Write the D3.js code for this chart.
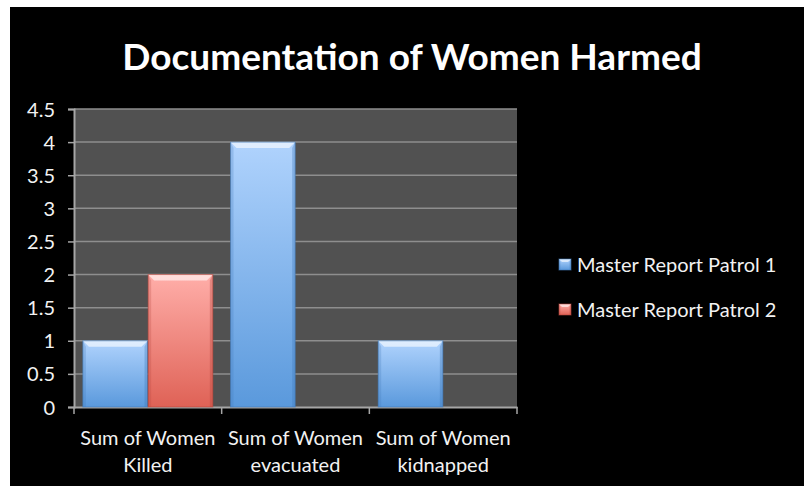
<!DOCTYPE html>
<html>
<head>
<meta charset="utf-8">
<script src="https://cdn.jsdelivr.net/npm/d3@7"></script>
<style>
  body { margin: 0; background: #fff; }
  #chart text { font-family: Lato, "Open Sans", sans-serif; fill: #f2f2f2; }
</style>
</head>
<body>
<div id="chart"></div>
<script>
// chart data
var categories = ["Sum of Women Killed", "Sum of Women evacuated", "Sum of Women kidnapped"];
var categoryLines = [["Sum of Women", "Killed"], ["Sum of Women", "evacuated"], ["Sum of Women", "kidnapped"]];
var seriesNames = ["Master Report Patrol 1", "Master Report Patrol 2"];
var patrol1 = [1, 4, 1];
var patrol2 = [2, null, null];
var yTicks = [0, 0.5, 1, 1.5, 2, 2.5, 3, 3.5, 4, 4.5];

var W = 804, H = 486;
var plot = { left: 74, right: 517, top: 109, bottom: 407 };

var svg = d3.select("#chart").append("svg")
    .attr("width", W)
    .attr("height", H);

// white page edge then black chart background
svg.append("rect").attr("width", W).attr("height", H).attr("fill", "#fff");
svg.append("rect").attr("x", 10).attr("y", 7).attr("width", W - 10).attr("height", H - 7).attr("fill", "#000");

var defs = svg.append("defs");
var palettes = [
    { top: "#b0d3fd", bottom: "#5a99dc", edge: "#3f78b8" },
    { top: "#ffaea9", bottom: "#df6256", edge: "#b4443b" }
];
palettes.forEach(function(p, i) {
    var g = defs.append("linearGradient").attr("id", "grad" + i)
        .attr("x1", 0).attr("y1", 0).attr("x2", 0).attr("y2", 1);
    g.append("stop").attr("offset", "0%").attr("stop-color", p.top);
    g.append("stop").attr("offset", "100%").attr("stop-color", p.bottom);
});

var y = d3.scaleLinear().domain([0, 4.5]).range([plot.bottom, plot.top]);
var x0 = d3.scaleBand().domain(categories).range([plot.left, plot.right]).padding(0);
var x1 = d3.scaleBand().domain(seriesNames)
    .range([x0.bandwidth() * 0.06, x0.bandwidth() * 0.94]).paddingInner(0.01);

// plot area
svg.append("rect")
    .attr("x", plot.left).attr("y", plot.top)
    .attr("width", plot.right - plot.left).attr("height", plot.bottom - plot.top)
    .attr("fill", "#515151");

// gridlines
svg.append("g").selectAll("line")
    .data(yTicks.filter(function(d) { return d > 0; }))
    .enter().append("line")
    .attr("x1", plot.left).attr("x2", plot.right)
    .attr("y1", function(d) { return y(d); }).attr("y2", function(d) { return y(d); })
    .attr("stroke", "#8e8e8e").attr("stroke-width", 1.5);

// y axis
var yAxis = svg.append("g")
    .attr("transform", "translate(" + plot.left + ",0)")
    .call(d3.axisLeft(y).tickValues(yTicks).tickSize(6).tickPadding(13).tickFormat(d3.format("")));
yAxis.select(".domain").attr("stroke", "#a6a6a6").attr("stroke-width", 2);
yAxis.selectAll(".tick line").attr("stroke", "#a6a6a6").attr("stroke-width", 1.5);
yAxis.selectAll(".tick text").style("font-size", "20px").attr("dy", "0.35em");

// x axis
var xAxis = svg.append("g")
    .attr("transform", "translate(0," + plot.bottom + ")")
    .call(d3.axisBottom(x0).tickSize(0).tickFormat(""));
xAxis.select(".domain").attr("stroke", "#a6a6a6").attr("stroke-width", 2);
xAxis.selectAll(".tick").remove();
var bounds = categories.map(function(c) { return x0(c); }).concat([plot.right]);
xAxis.selectAll(".bound")
    .data(bounds).enter().append("line")
    .attr("x1", function(d) { return d; }).attr("x2", function(d) { return d; })
    .attr("y1", 0).attr("y2", 7)
    .attr("stroke", "#a6a6a6").attr("stroke-width", 1.5);

svg.append("g").selectAll("text")
    .data(categories).enter().append("text")
    .attr("x", function(c) { return x0(c) + x0.bandwidth() / 2; })
    .attr("y", 445)
    .attr("text-anchor", "middle")
    .style("font-size", "20px")
    .each(function(c, i) {
        var t = d3.select(this);
        categoryLines[i].forEach(function(line, j) {
            t.append("tspan").attr("x", x0(c) + x0.bandwidth() / 2)
                .attr("dy", j === 0 ? 0 : 27).text(line);
        });
    });

// bars
var barData = [];
categories.forEach(function(c, i) {
    [patrol1, patrol2].forEach(function(s, k) {
        if (s[i] != null && s[i] > 0) barData.push({ cat: c, series: seriesNames[k], k: k, value: s[i] });
    });
});

function drawBevelBar(g, x, yTop, w, h, k, bev) {
    var p = palettes[k];
    g.append("rect").attr("x", x).attr("y", yTop).attr("width", w).attr("height", h)
        .attr("fill", "url(#grad" + k + ")");
    // top bevel highlight
    g.append("polygon")
        .attr("points", [[x, yTop], [x + w, yTop], [x + w - bev, yTop + bev], [x + bev, yTop + bev]].join(" "))
        .attr("fill", "#fff").attr("fill-opacity", 0.6);
    // side shading
    g.append("polygon")
        .attr("points", [[x, yTop], [x + bev * 0.5, yTop + bev], [x + bev * 0.5, yTop + h], [x, yTop + h]].join(" "))
        .attr("fill", p.edge).attr("fill-opacity", 0.25);
    g.append("polygon")
        .attr("points", [[x + w, yTop], [x + w - bev * 0.5, yTop + bev], [x + w - bev * 0.5, yTop + h], [x + w, yTop + h]].join(" "))
        .attr("fill", p.edge).attr("fill-opacity", 0.35);
    g.append("rect").attr("x", x).attr("y", yTop).attr("width", w).attr("height", h)
        .attr("fill", "none").attr("stroke", p.edge).attr("stroke-opacity", 0.6).attr("stroke-width", 1);
}

var barsG = svg.append("g");
barData.forEach(function(d) {
    var bx = x0(d.cat) + x1(d.series);
    drawBevelBar(barsG, bx, y(d.value), x1.bandwidth(), y(0) - y(d.value), d.k, 6);
});

// title
svg.append("text")
    .attr("x", 412).attr("y", 70)
    .attr("text-anchor", "middle")
    .style("font-size", "37px").style("font-weight", "bold")
    .style("fill", "#fff")
    .text("Documentation of Women Harmed");

// legend
var legend = svg.append("g");
seriesNames.forEach(function(name, k) {
    var ly = 265 + k * 45;
    drawBevelBar(legend, 559, ly - 6, 12, 11, k, 3);
    legend.append("text")
        .attr("x", 577).attr("y", ly).attr("dy", "0.35em")
        .style("font-size", "20px")
        .text(name);
});
</script>
</body>
</html>
